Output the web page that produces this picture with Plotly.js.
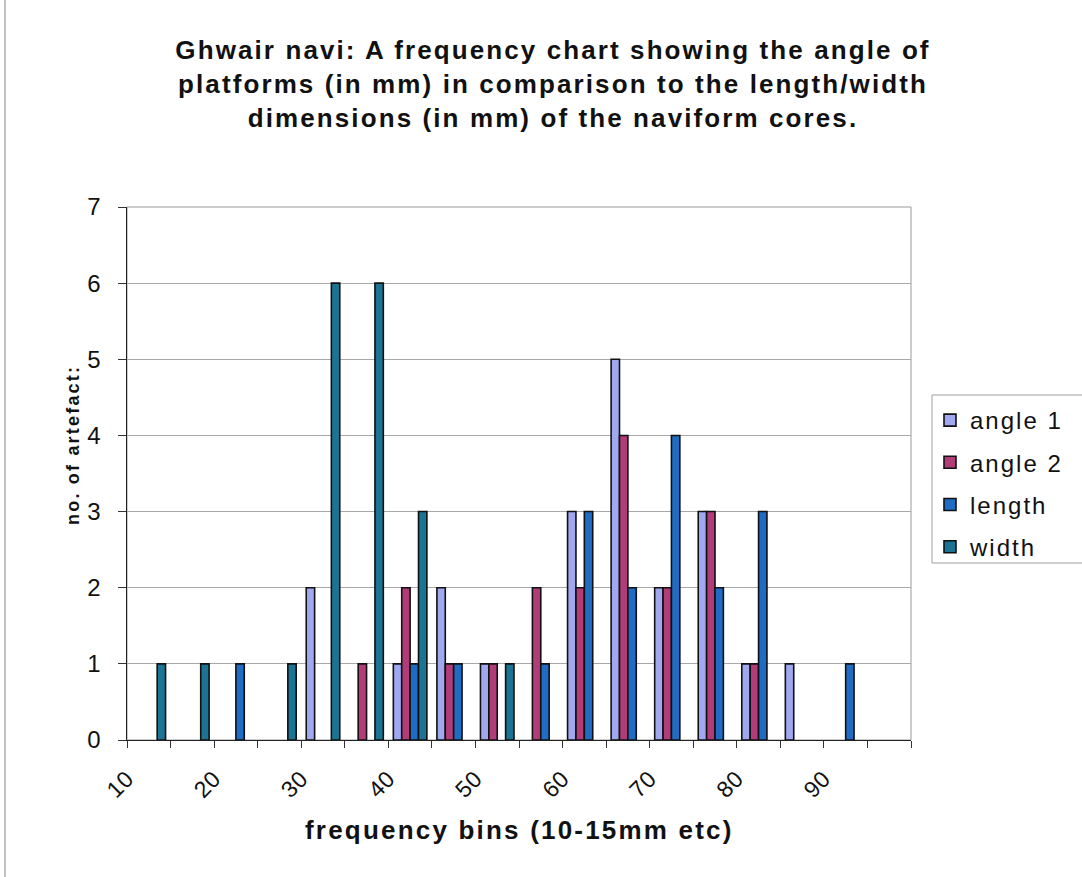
<!DOCTYPE html>
<html>
<head>
<meta charset="utf-8">
<script src="https://cdn.plot.ly/plotly-3.0.1.min.js"></script>
<style>
  html, body { margin: 0; padding: 0; background: #ffffff; }
  #chart { width: 1082px; height: 877px; }
  .gtitle { letter-spacing: 2.1px; }
  .legendtext { letter-spacing: 2px; }
  .annotation-text { letter-spacing: 2.2px; }
  .xtick text, .ytick text { letter-spacing: 0.5px; }
</style>
</head>
<body>
<div id="chart"></div>
<script>
// Frequency bins (lower bound of each 5 mm bin)
const binStarts = [10, 15, 20, 25, 30, 35, 40, 45, 50, 55, 60, 65, 70, 75, 80, 85, 90, 95];

// Counts of artefacts per bin for each measurement
const angle1 = [0, 0, 0, 0, 2, 0, 1, 2, 1, 0, 3, 5, 2, 3, 1, 1, 0, 0];
const angle2 = [0, 0, 0, 0, 0, 1, 2, 1, 1, 2, 2, 4, 2, 3, 1, 0, 0, 0];
const lengthCounts = [0, 0, 1, 0, 0, 0, 1, 1, 0, 1, 3, 2, 4, 2, 3, 0, 1, 0];
const widthCounts = [1, 1, 0, 1, 6, 6, 3, 0, 1, 0, 0, 0, 0, 0, 0, 0, 0, 0];

const seriesNames = ['angle 1', 'angle 2', 'length', 'width'];
const seriesColors = ['#a0a8f0', '#b23c78', '#1f6cc4', '#1b7494'];

// Labelled ticks on the bin axis
const tickValues = [10, 20, 30, 40, 50, 60, 70, 80, 90];
const tickLabels = ['10', '20', '30', '40', '50', '60', '70', '80', '90'];

const FONT = 'Arial, "Liberation Sans", sans-serif';

// each bar sits in the middle of its 5 mm bin; empty bins draw nothing
const binMid = binStarts.map(b => b + 2.5);

const seriesValues = [angle1, angle2, lengthCounts, widthCounts];
const traces = seriesValues.map((vals, i) => ({
  type: 'bar',
  name: seriesNames[i],
  legendgroup: 'g' + i,
  x: binMid,
  y: vals.map(v => (v === 0 ? null : v)),
  marker: { color: seriesColors[i], line: { color: '#111111', width: 1.6 } },
  hoverinfo: 'name+y'
}));

// plot area geometry in pixels
const W = 1082, H = 877;
const M = { l: 127, r: 171, t: 207, b: 137 };
const pw = W - M.l - M.r, ph = H - M.t - M.b;
const px = x => (x - M.l) / pw;           // page px -> paper x
const py = y => (H - M.b - y) / ph;       // page px -> paper y

const layout = {
  width: W,
  height: H,
  margin: M,
  paper_bgcolor: '#ffffff',
  plot_bgcolor: '#ffffff',
  font: { family: FONT, color: '#111111' },
  barmode: 'group',
  bargap: 0.23,
  bargroupgap: 0,
  showlegend: true,
  title: {
    text: 'Ghwair navi: A frequency chart showing the angle of<br>platforms (in mm) in comparison to the length/width<br>dimensions (in mm) of the naviform cores.',
    font: { family: FONT, size: 26, weight: 700, color: '#111111' },
    x: 553 / W,
    xref: 'container',
    xanchor: 'center',
    y: 1 - 59 / H,
    yref: 'container',
    yanchor: 'top'
  },
  xaxis: {
    range: [10, 100],
    tickvals: tickValues,
    ticktext: tickLabels,
    tickangle: -45,
    ticks: 'outside',
    ticklen: 7,
    tickcolor: '#333333',
    ticklabelstandoff: 8,
    tickfont: { family: FONT, size: 23, color: '#111111' },
    minor: { tick0: 10, dtick: 5, ticks: 'outside', ticklen: 7, tickcolor: '#333333', showgrid: false },
    showline: true,
    linecolor: '#222222',
    linewidth: 1.2,
    showgrid: false,
    zeroline: false,
    fixedrange: true
  },
  yaxis: {
    range: [0, 7],
    dtick: 1,
    tick0: 0,
    ticks: 'outside',
    ticklen: 8,
    tickcolor: '#333333',
    ticklabelstandoff: 12,
    tickfont: { family: FONT, size: 24, color: '#111111' },
    showline: true,
    linecolor: '#222222',
    linewidth: 1.2,
    showgrid: true,
    gridcolor: '#a8a8a8',
    gridwidth: 1,
    zeroline: false,
    fixedrange: true
  },
  legend: {
    x: px(930),
    xanchor: 'left',
    y: py(398),
    yanchor: 'top',
    bgcolor: 'rgba(0,0,0,0)',
    borderwidth: 0,
    tracegroupgap: 8,
    font: { family: FONT, size: 24, color: '#111111' }
  },
  shapes: [
    // plot area frame (top and right edges)
    { type: 'rect', xref: 'paper', yref: 'paper', x0: 0, x1: 1, y0: 0, y1: 1,
      line: { color: '#9a9a9a', width: 1 }, layer: 'below' },
    // legend box
    { type: 'rect', xref: 'paper', yref: 'paper',
      x0: px(932), x1: px(1090), y0: py(563), y1: py(395),
      line: { color: '#a0a0a0', width: 1 }, fillcolor: 'rgba(0,0,0,0)' },
    // outer chart border on the left
    { type: 'line', xref: 'paper', yref: 'paper',
      x0: px(5), x1: px(5), y0: py(0), y1: py(877),
      line: { color: '#9a9a9a', width: 1.2 } }
  ],
  annotations: [
    { text: 'frequency bins (10-15mm etc)', xref: 'paper', yref: 'paper',
      x: px(519), y: py(830), xanchor: 'center', yanchor: 'middle', showarrow: false,
      font: { family: FONT, size: 26, weight: 700, color: '#111111' } },
    { text: 'no. of artefact:', xref: 'paper', yref: 'paper',
      x: px(73), y: py(445), xanchor: 'center', yanchor: 'middle', showarrow: false,
      textangle: -90,
      font: { family: FONT, size: 18, weight: 700, color: '#111111' } }
  ]
};

Plotly.newPlot('chart', traces, layout, { displayModeBar: false, staticPlot: true });
</script>
</body>
</html>
